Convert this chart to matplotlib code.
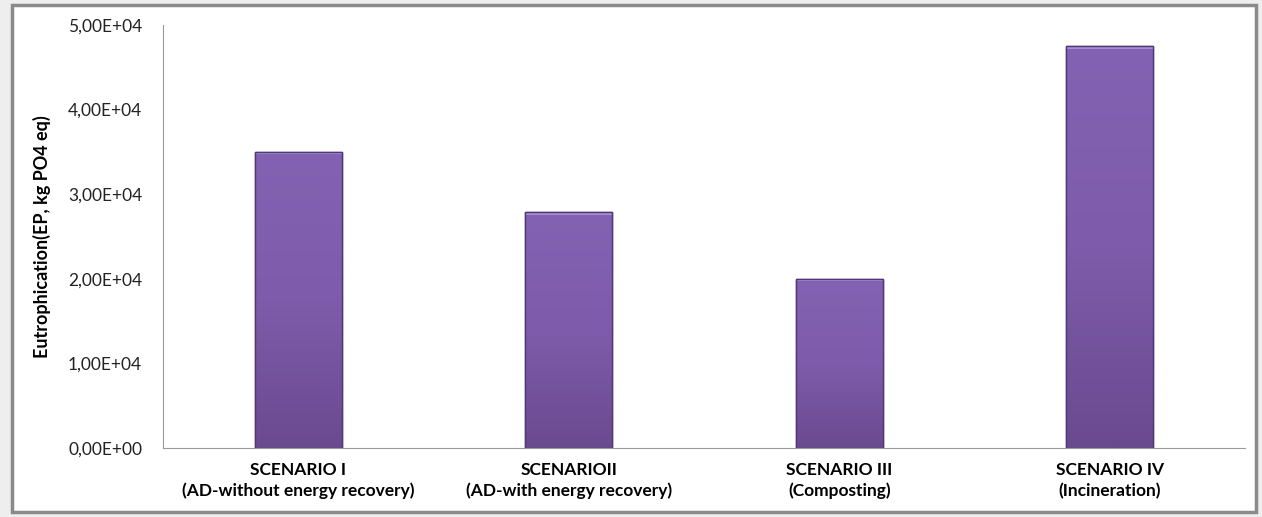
import matplotlib
matplotlib.use("Agg")
import matplotlib.pyplot as plt
import numpy as np
from matplotlib.patches import Rectangle
from matplotlib.ticker import FuncFormatter
from matplotlib.colors import LinearSegmentedColormap

categories = ["SCENARIO I\n(AD-without energy recovery)",
              "SCENARIOII\n(AD-with energy recovery)",
              "SCENARIO III\n(Composting)",
              "SCENARIO IV\n(Incineration)"]
values = [3.50e4, 2.79e4, 2.00e4, 4.75e4]
yticks = [0, 1e4, 2e4, 3e4, 4e4, 5e4]

plt.rcParams['font.family'] = ['Lato', 'DejaVu Sans']

W, H = 1262, 517
fig = plt.figure(figsize=(W/100, H/100), dpi=100)
fig.patch.set_facecolor('#eeeeee')

# outer chart frame
fig.patches.append(Rectangle((12/W, 5/H), (1256-12)/W, (512-5)/H, transform=fig.transFigure,
                             facecolor='white', edgecolor='#8a8a8a', linewidth=2.5, zorder=-5))

ax = fig.add_axes([163/W, 1-448/H, (1245-163)/W, (448-25)/H])
ax.set_zorder(1)
ax.set_facecolor('none')
x = np.arange(len(categories))
bars = ax.bar(x, values, width=0.32, color='#7e5cab', edgecolor='#4f3873', linewidth=1.0, zorder=2)

ax.set_xlim(-0.5, len(categories) - 0.5)
ax.set_ylim(0, 5e4)

# gradient overlay on bars
grad = np.linspace(0, 1, 256).reshape(-1, 1)
cmap = LinearSegmentedColormap.from_list('g', ['#6a4a8f', '#7e5cab', '#8462b3'])
bevel = 0.006 * 5e4
for b in bars:
    bx, by = b.get_x(), b.get_y()
    bw, bh = b.get_width(), b.get_height()
    im = ax.imshow(grad, extent=[bx, bx + bw, by, by + bh], origin='lower', aspect='auto',
                   cmap=cmap, zorder=2.1)
    im.set_clip_path(b)
    ax.add_patch(Rectangle((bx, by + bh - bevel), bw, bevel,
                           facecolor='#a98bd6', edgecolor='none', zorder=2.2))
    ax.add_patch(Rectangle((bx, by), bw, bh, facecolor='none', edgecolor='#4f3873',
                           linewidth=1.0, zorder=2.3))
ax.set_xlim(-0.5, len(categories) - 0.5)
ax.set_ylim(0, 5e4)

ax.set_yticks(yticks)
ax.yaxis.set_major_formatter(FuncFormatter(lambda v, p: f"{v:.2E}".replace('.', ',')))
ax.set_xticks(x)
ax.set_xticklabels(categories, fontweight='bold', fontsize=12.5, linespacing=1.35)
ax.tick_params(axis='y', length=0, pad=15, labelsize=12.5, labelcolor='#222222')
ax.tick_params(axis='x', length=0, pad=10)

for s in ['top', 'right']:
    ax.spines[s].set_visible(False)
ax.spines['left'].set_color('#9a9a9a')
ax.spines['bottom'].set_color('#9a9a9a')

ax.set_ylabel("Eutrophication(EP, kg PO4 eq)", fontweight='bold', fontsize=13, labelpad=12)

fig.savefig("out.png", dpi=100)
